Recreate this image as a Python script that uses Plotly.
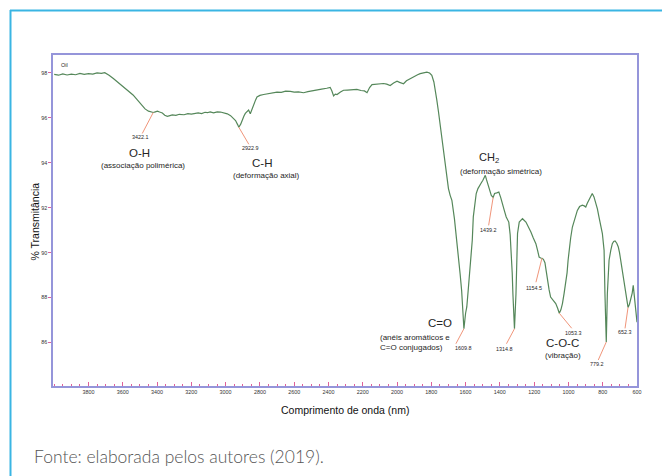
import plotly.graph_objects as go

# FTIR spectrum of the oil sample: wavenumber (cm-1) vs % transmittance
wavenumber = [
    4000, 3975, 3950, 3925, 3900, 3875, 3850, 3825, 3800, 3775, 3750, 3725, 3705,
    3680, 3655, 3630, 3600, 3570, 3540, 3515, 3490, 3470, 3450, 3435, 3422.1,
    3410, 3398, 3385, 3369, 3355, 3340, 3325, 3311, 3290, 3270, 3243, 3220, 3200,
    3185, 3160, 3140, 3120, 3107, 3090, 3070, 3049, 3030, 3010, 2990, 2971, 2955,
    2942, 2930, 2922.9, 2912, 2904, 2893, 2885, 2872, 2866, 2856, 2846, 2837,
    2825, 2817, 2800, 2778, 2750, 2725, 2700, 2675, 2650, 2622, 2600, 2575, 2545,
    2520, 2490, 2467, 2440, 2410, 2390, 2380, 2370, 2360, 2350, 2330, 2312, 2290,
    2260, 2234, 2210, 2190, 2175, 2160, 2146, 2120, 2100, 2079, 2060, 2040, 2020,
    2000, 1985, 1962, 1945, 1923, 1900, 1880, 1865, 1845, 1826, 1810, 1797, 1785,
    1778, 1768, 1758, 1748, 1738, 1728, 1719, 1710, 1700, 1690, 1680, 1665, 1651,
    1640, 1632, 1623, 1616, 1609.8, 1600, 1593, 1585, 1577, 1568, 1561, 1555,
    1545, 1538, 1528, 1519, 1509, 1499, 1485, 1478, 1470, 1460, 1450, 1439.2,
    1431, 1418, 1406, 1395, 1383, 1373, 1363, 1348, 1340, 1334, 1328, 1324,
    1314.8, 1306, 1300, 1297, 1287, 1268, 1248, 1230, 1219, 1205, 1190, 1180,
    1171, 1162, 1154.5, 1146, 1137, 1130, 1123, 1113, 1104, 1090, 1074, 1063,
    1053.3, 1044, 1035, 1025, 1015, 1008, 1002, 996, 987, 977, 963, 948, 935,
    919, 908, 899, 890, 880, 870, 861, 851, 841, 831, 822, 812, 802, 796, 792,
    787, 779.2, 773, 768, 763, 753, 744, 736, 728, 718, 709, 702, 695, 685, 670,
    660, 652.3, 644, 637, 628, 622, 617, 612, 600,
]
transmittance = [
    97.94, 97.90, 97.96, 97.91, 97.95, 97.92, 97.98, 97.94, 97.97, 97.95, 98.00, 97.98, 98.01,
    97.90, 97.75, 97.60, 97.40, 97.22, 97.02, 96.80, 96.56, 96.40, 96.30, 96.27, 96.24,
    96.27, 96.30, 96.26, 96.22, 96.12, 96.07, 96.10, 96.13, 96.11, 96.16, 96.14, 96.19, 96.17,
    96.20, 96.22, 96.19, 96.25, 96.23, 96.27, 96.22, 96.27, 96.26, 96.23, 96.18, 96.10, 96.00,
    95.88, 95.70, 95.58, 95.72, 95.90, 96.08, 96.20, 96.33, 96.35, 96.18, 96.40, 96.56,
    96.80, 96.93, 97.00, 97.04, 97.09, 97.12, 97.15, 97.14, 97.19, 97.18, 97.15, 97.16, 97.12,
    97.17, 97.20, 97.23, 97.28, 97.32, 97.36, 97.20, 96.98, 97.06, 97.04, 97.15, 97.23, 97.24,
    97.27, 97.27, 97.22, 97.20, 97.12, 97.35, 97.48, 97.50, 97.52, 97.53, 97.50, 97.44, 97.55,
    97.63, 97.58, 97.52, 97.65, 97.75, 97.85, 97.92, 97.97, 98.00, 98.04, 98.00, 97.90, 97.60,
    97.31, 96.80, 96.26, 95.65, 95.08, 94.48, 93.89, 93.35, 92.85, 92.55, 92.33, 91.50, 90.55,
    89.80, 89.06, 88.30, 87.58, 86.61, 87.30, 87.58, 88.30, 89.06, 90.00, 90.55, 91.59,
    92.30, 92.63, 92.85, 93.00, 93.10, 93.22, 93.44, 93.25, 93.07, 92.80, 92.55, 92.46,
    92.63, 92.66, 92.70, 92.45, 92.18, 91.85, 91.59, 91.36, 90.80, 90.10, 89.10, 88.17,
    86.61, 88.17, 89.66, 90.85, 91.36, 91.51, 91.36, 91.10, 90.92, 90.65, 90.40, 90.10,
    89.80, 89.76, 89.75, 89.70, 89.55, 89.20, 88.77, 88.35, 88.02, 87.88, 87.73, 87.52,
    87.30, 87.45, 87.73, 88.20, 88.62, 89.10, 89.66, 90.10, 90.65, 91.14, 91.55, 91.88, 92.05,
    92.11, 92.08, 92.03, 92.20, 92.33, 92.50, 92.63, 92.48, 92.25, 91.95, 91.59, 91.25, 90.85, 90.40, 90.10,
    88.17, 86.02, 88.17, 89.00, 89.66, 90.10, 90.40, 90.50, 90.52, 90.42, 90.25, 90.00, 89.66, 89.21, 88.47,
    87.95, 87.56, 87.70, 87.88, 88.20, 88.54, 88.10, 87.73, 86.90,
]

# Marked band positions (cm-1)
peak_positions = [3422.1, 2922.9, 1609.8, 1439.2, 1314.8, 1154.5, 1053.3, 779.2, 652.3]

x_ticks = list(range(3800, 599, -200))
y_ticks = [98, 96, 94, 92, 90, 88, 86]

# Layout geometry
W, H = 662, 476
M_L, M_R, M_T, M_B = 53, 25, 55, 90
X_RANGE = [4007, 600]
Y_RANGE = [84.06, 98.8]
plot_w = W - M_L - M_R
plot_h = H - M_T - M_B
x_per_px = (X_RANGE[0] - X_RANGE[1]) / plot_w
y_per_px = (Y_RANGE[1] - Y_RANGE[0]) / plot_h

FONT = "Liberation Sans, Arial, sans-serif"
GREEN = "#55875a"
SALMON = "#f0957a"
FRAME = "#9595da"
TICK = "#e0609a"
TEXT = "#262626"

fig = go.Figure()
fig.add_trace(go.Scatter(
    x=wavenumber, y=transmittance, mode="lines",
    line=dict(color=GREEN, width=1.2), hoverinfo="skip", showlegend=False,
))

# Leader lines and value labels for each marked band: (line end dx, dy), (label dx, dy) in px
leader_offsets = {
    3422.1: ((-11, 21), (-13, 25)),
    2922.9: ((10, 17), (12, 21)),
    1609.8: ((-8, 15), (0, 19)),
    1439.2: ((-4.5, 28), (-5, 33)),
    1314.8: ((-8, 15), (-9.5, 20)),
    1154.5: ((-6, 24), (-8, 29.5)),
    1053.3: ((12.4, 15), (14, 19.5)),
    779.2: ((-8, 18), (-9.6, 22.5)),
    652.3: ((-3, 21), (-3, 25)),
}

shapes = []
annotations = []
for wn in peak_positions:
    t = transmittance[wavenumber.index(wn)]
    (ldx, ldy), (tdx, tdy) = leader_offsets[wn]
    shapes.append(dict(
        type="line", xref="x", yref="y",
        x0=wn, y0=t, x1=wn - ldx * x_per_px, y1=t - ldy * y_per_px,
        line=dict(color=SALMON, width=1),
    ))
    annotations.append(dict(
        x=wn, y=t, xref="x", yref="y", text=f"{wn:.1f}", showarrow=False,
        xshift=tdx, yshift=-tdy, font=dict(family=FONT, size=5.4, color=TEXT),
    ))

# Band assignments
groups = [
    ("O-H", 3504, 94.44, 11.5),
    ("(associação polimérica)", 3481, 93.89, 8),
    ("C-H", 2790, 93.99, 11.5),
    ("(deformação axial)", 2761, 93.44, 8),
    ("CH<sub>2</sub>", 1462, 94.20, 11),
    ("(deformação simétrica)", 1395, 93.60, 8),
    ("C=O", 1752, 86.88, 11.5),
    ("C-O-C", 1036, 85.97, 11.5),
    ("(vibração)", 1030, 85.43, 8),
]
for text, gx, gy, size in groups:
    annotations.append(dict(
        x=gx, y=gy, xref="x", yref="y", text=text, showarrow=False,
        xanchor="center", yanchor="middle",
        font=dict(family=FONT, size=size, color=TEXT),
    ))
annotations.append(dict(
    x=2111, y=86.0, xref="x", yref="y", text="(anéis aromáticos e<br>C=O conjugados)",
    showarrow=False, xanchor="left", yanchor="middle", align="left",
    font=dict(family=FONT, size=8, color=TEXT),
))
annotations.append(dict(
    x=3973, y=98.34, xref="x", yref="y", text="Oil", showarrow=False,
    xanchor="left", yanchor="middle",
    font=dict(family=FONT, size=5.5, color=TEXT),
))


def px_to_paper_x(px):
    return (px - M_L) / plot_w


def py_to_paper_y(py):
    return (H - M_B - py) / plot_h


# Axis titles
annotations.append(dict(
    x=px_to_paper_x(345), y=py_to_paper_y(410.5), xref="paper", yref="paper",
    text="Comprimento de onda (nm)", showarrow=False,
    xanchor="center", yanchor="middle",
    font=dict(family=FONT, size=10.5, color="#111"),
))
annotations.append(dict(
    x=px_to_paper_x(34), y=py_to_paper_y(221.5), xref="paper", yref="paper",
    text="% Transmitância", showarrow=False, textangle=-90,
    xanchor="center", yanchor="middle",
    font=dict(family=FONT, size=10.5, color="#111"),
))
# Source note
annotations.append(dict(
    x=px_to_paper_x(32), y=py_to_paper_y(456.5), xref="paper", yref="paper",
    text="Fonte: elaborada pelos autores (2019).", showarrow=False,
    xanchor="left", yanchor="middle",
    font=dict(family="Lato, sans-serif", size=17.5, color="#555", weight=300),
))

# Cyan page frame (top and left edges)
shapes.append(dict(type="line", xref="paper", yref="paper",
                   x0=px_to_paper_x(10), x1=px_to_paper_x(662),
                   y0=py_to_paper_y(10.5), y1=py_to_paper_y(10.5),
                   line=dict(color="#3ab5e3", width=2)))
shapes.append(dict(type="line", xref="paper", yref="paper",
                   x0=px_to_paper_x(10.5), x1=px_to_paper_x(10.5),
                   y0=py_to_paper_y(10), y1=py_to_paper_y(476),
                   line=dict(color="#3ab5e3", width=2)))

fig.update_layout(
    width=W, height=H,
    margin=dict(l=M_L, r=M_R, t=M_T, b=M_B),
    paper_bgcolor="white", plot_bgcolor="white",
    shapes=shapes, annotations=annotations,
    showlegend=False,
)
fig.update_xaxes(
    range=X_RANGE, tickvals=x_ticks, ticktext=[str(v) for v in x_ticks],
    showgrid=False, zeroline=False,
    showline=True, mirror=True, linecolor=FRAME, linewidth=1.5,
    ticks="inside", ticklen=4, tickcolor=TICK, tickwidth=1,
    minor=dict(dtick=50, tick0=600, ticks="inside", ticklen=2, tickcolor=TICK),
    tickfont=dict(family=FONT, size=5.4, color="#333"),
)
fig.update_yaxes(
    range=Y_RANGE, tickvals=y_ticks, ticktext=[str(v) for v in y_ticks],
    showgrid=False, zeroline=False,
    showline=True, mirror=True, linecolor=FRAME, linewidth=1.5,
    ticks="outside", ticklen=3, tickcolor=TICK, tickwidth=1,
    tickfont=dict(family=FONT, size=5.4, color="#333"),
)

fig.write_html("out.html")
